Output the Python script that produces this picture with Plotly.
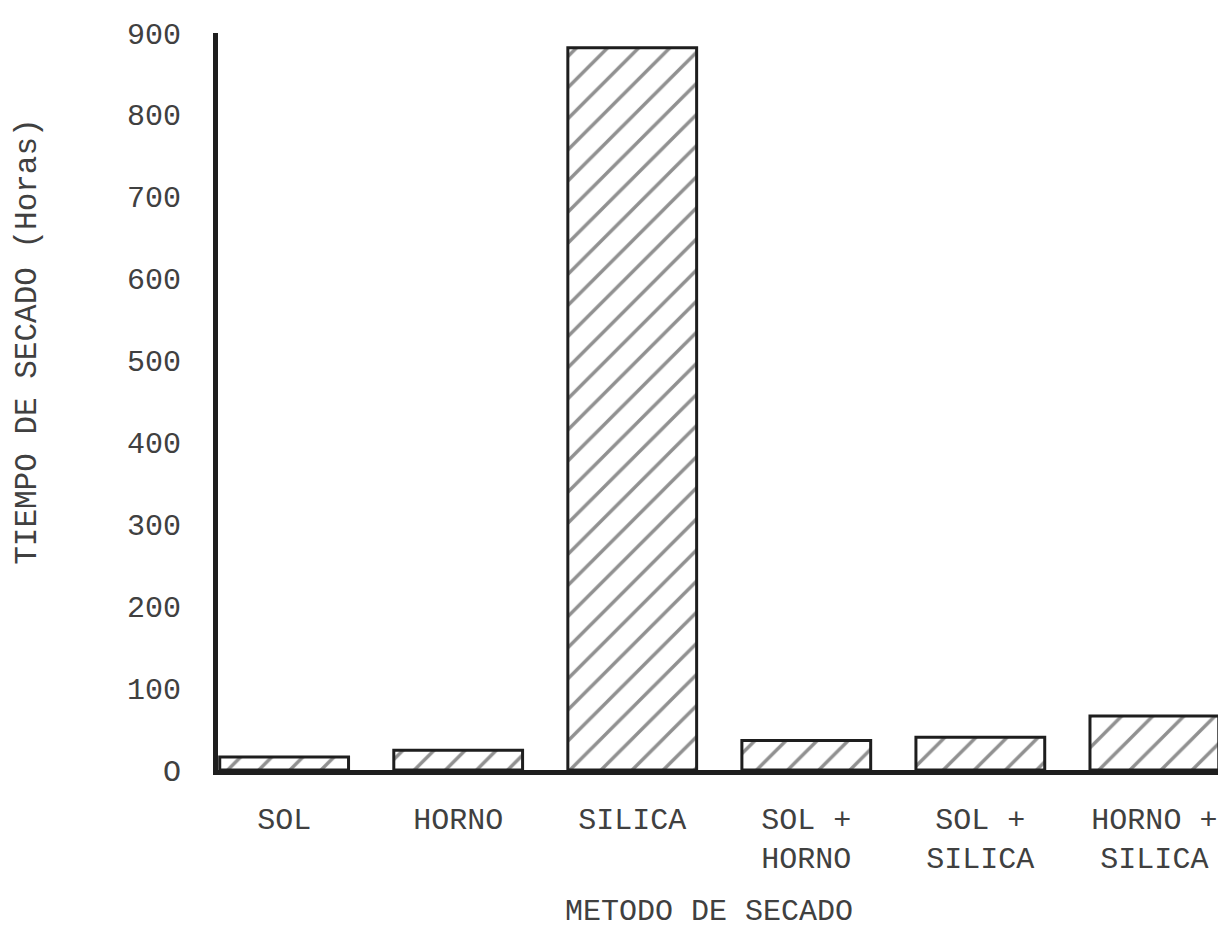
import plotly.graph_objects as go

categories = ["SOL", "HORNO", "SILICA", "SOL + HORNO", "SOL + SILICA", "HORNO + SILICA"]
tick_text = ["SOL", "HORNO", "SILICA", "SOL +<br>HORNO", "SOL +<br>SILICA", "HORNO +<br>SILICA"]
hours = [16, 24, 882, 36, 40, 66]
y_ticks = [0, 100, 200, 300, 400, 500, 600, 700, 800, 900]
y_tick_text = ["O", "100", "200", "300", "400", "500", "600", "700", "800", "900"]

FONT = "Liberation Mono"
INK = "#404040"
LINE = "#1e1e1e"

fig = go.Figure()
fig.add_trace(go.Bar(
    x=list(range(len(categories))),
    y=hours,
    width=0.74,
    marker=dict(
        color="white",
        line=dict(color=LINE, width=3),
        pattern=dict(shape="/", fgcolor="#222222", bgcolor="white", size=22, solidity=0.16),
    ),
    hovertext=categories,
))

fig.update_layout(
    width=1226, height=935,
    margin=dict(l=210, r=10, t=22, b=173),
    paper_bgcolor="white", plot_bgcolor="white",
    showlegend=False,
    font=dict(family=FONT, color=INK, size=30),
    annotations=[
        dict(text="TIEMPO DE SECADO (Horas)", xref="paper", yref="paper",
             x=0, y=0.581, xshift=-190, textangle=-90, showarrow=False,
             xanchor="center", yanchor="middle",
             font=dict(family=FONT, size=31, color=INK)),
        dict(text="METODO DE SECADO", xref="paper", yref="paper",
             x=0.4876, y=0, yshift=-142, showarrow=False,
             xanchor="center", yanchor="middle",
             font=dict(family=FONT, size=30, color=INK)),
    ],
)
fig.update_xaxes(
    range=[-0.38, 5.40],
    tickmode="array", tickvals=list(range(len(categories))), ticktext=tick_text,
    showgrid=False, zeroline=False,
    showline=True, linecolor=LINE, linewidth=5,
    ticks="", ticklabelstandoff=18,
    tickfont=dict(family=FONT, size=30, color=INK),
)
fig.update_yaxes(
    range=[0, 900],
    tickmode="array", tickvals=y_ticks, ticktext=y_tick_text,
    showgrid=False, zeroline=False,
    showline=True, linecolor=LINE, linewidth=5,
    ticks="", ticklabelstandoff=26,
    tickfont=dict(family=FONT, size=30, color=INK),
)

fig.write_html("out.html")
